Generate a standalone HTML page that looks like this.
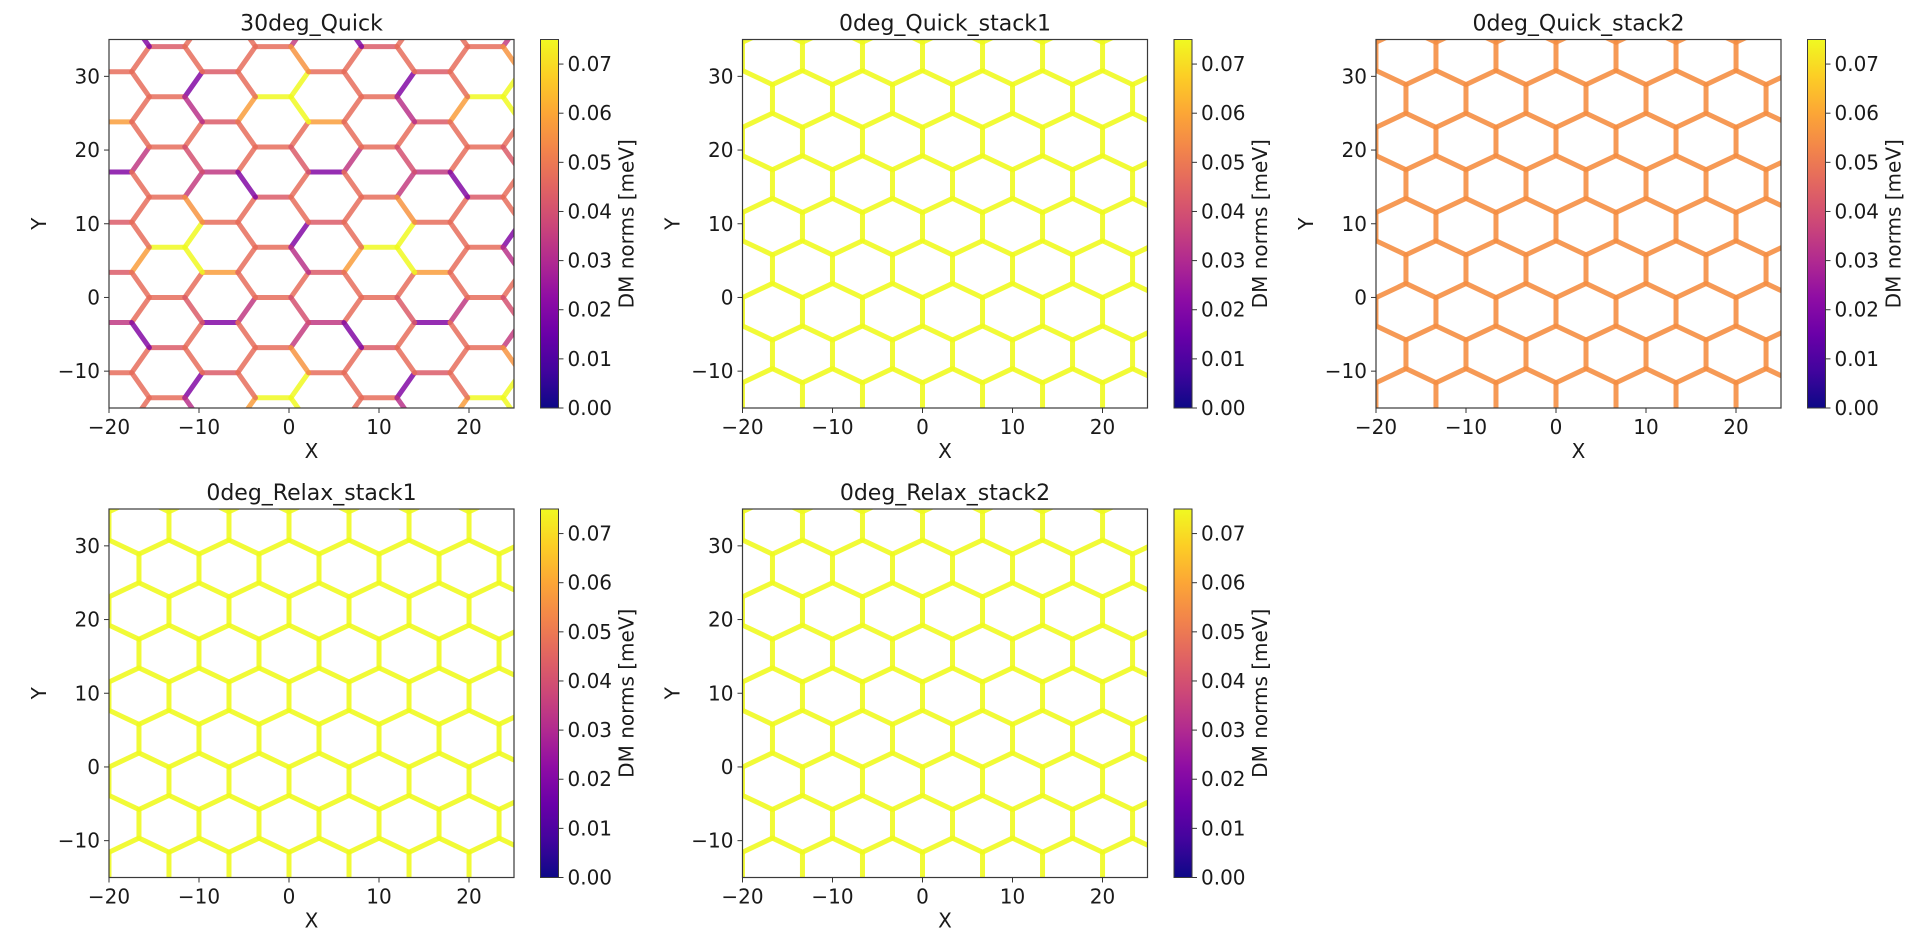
<!DOCTYPE html>
<html><head><meta charset="utf-8"><style>
html,body{margin:0;padding:0;background:#fff;}
svg{display:block;font-family:"DejaVu Sans","Liberation Sans",sans-serif;}
</style></head><body>
<svg id="fig" width="1920" height="939" viewBox="0 0 1920 939" xmlns="http://www.w3.org/2000/svg">
<defs>
<linearGradient id="plasma" x1="0" y1="1" x2="0" y2="0">
<stop offset="0" stop-color="#0d0887"/><stop offset="0.1" stop-color="#41049d"/><stop offset="0.2" stop-color="#6a00a8"/><stop offset="0.3" stop-color="#8f0da4"/><stop offset="0.4" stop-color="#b12a90"/><stop offset="0.5" stop-color="#cc4778"/><stop offset="0.6" stop-color="#e16462"/><stop offset="0.7" stop-color="#f2844b"/><stop offset="0.8" stop-color="#fca636"/><stop offset="0.9" stop-color="#fcce25"/><stop offset="1" stop-color="#f0f921"/>
</linearGradient>
</defs>
</svg>
<script>
// ---- data ----
const panelTitles = ["30deg_Quick","0deg_Quick_stack1","0deg_Quick_stack2","0deg_Relax_stack1","0deg_Relax_stack2"];
const panelKinds = ["30deg","0deg","0deg","0deg","0deg"];
const panelUniformValues = [null, 0.075, 0.055, 0.075, 0.075];
const xTicks = [-20,-10,0,10,20];
const yTicks = [-10,0,10,20,30];
const cbTicks = [0.00,0.01,0.02,0.03,0.04,0.05,0.06,0.07];
const cbTickLabels = ["0.00","0.01","0.02","0.03","0.04","0.05","0.06","0.07"];
// 30deg supercell edge values: [rowClass, colClass, horizontal, upRight, downRight]
const baseVal = 0.047;
const edgeClassRows = [0,0,1,1,2,2,3,3,4,4,5,5];
const edgeClassCols = [0,2,1,3,0,2,1,3,0,2,1,3];
const edgeClassH  = [0.047,0.047,0.058,0.043,0.075,0.047,0.047,0.043,0.047,0.043,0.034,0.02];
const edgeClassDU = [0.047,0.047,0.047,0.058,0.075,0.02,0.047,0.047,0.035,0.047,0.047,0.034];
const edgeClassDD = [0.043,0.04,0.047,0.047,0.075,0.032,0.047,0.047,0.056,0.047,0.02,0.047];

// ---- layout ----
const VMAX = 0.075, XMIN=-20, XMAX=25, YMIN=-15, YMAX=35;
const PW=405, PH=368.5;
const panelPos = [[109,39.5],[742.5,39.5],[1376,39.5],[109,509],[742.5,509]];
const stops = [[13,8,135],[65,4,157],[106,0,168],[143,13,164],[177,42,144],[204,71,120],[225,100,98],[242,132,75],[252,166,54],[252,206,37],[240,249,33]];
function cmap(v){
  let t=Math.max(0,Math.min(1,v/VMAX))*10; let i=Math.min(9,Math.floor(t)); let f=t-i;
  const a=stops[i], b=stops[i+1];
  const c=[0,1,2].map(k=>Math.round(a[k]+(b[k]-a[k])*f));
  return `rgb(${c[0]},${c[1]},${c[2]})`;
}
const NS="http://www.w3.org/2000/svg";
const svg=document.getElementById('fig');
function mk(tag,attrs,parent){const e=document.createElementNS(NS,tag);for(const k in attrs)e.setAttribute(k,attrs[k]);(parent||svg).appendChild(e);return e;}

function classVal(r,j,which){
  const q=Math.floor(r/6); const rr=r-6*q; const jj=(((j-2*q)%4)+4)%4;
  for(let i=0;i<edgeClassRows.length;i++){
    if(edgeClassRows[i]===rr && edgeClassCols[i]===jj){
      return which===0?edgeClassH[i]:which===1?edgeClassDU[i]:edgeClassDD[i];
    }
  }
  return baseVal;
}

panelTitles.forEach((title,p)=>{
  const [L,T]=panelPos[p];
  const sx=X=>L+(X-XMIN)/(XMAX-XMIN)*PW;
  const sy=Y=>T+(YMAX-Y)/(YMAX-YMIN)*PH;
  const g=mk('g',{});
  
  
  const cp=mk('clipPath',{id:'clip'+p},g);
  mk('rect',{x:L,y:T,width:PW,height:PH},cp);
  const lat=mk('g',{'clip-path':`url(#clip${p})`,'stroke-linecap':'round','stroke-width':5,'stroke-opacity':(p===0?0.85:0.9),fill:'none'},g);
  
  
  function seg(x1,y1,x2,y2,v){
    const l=mk('line',{x1:sx(x1),y1:sy(y1),x2:sx(x2),y2:sy(y2),stroke:cmap(v)},lat);
    
    
  }
  if(panelKinds[p]==="30deg"){
    const a=3.93, h=a*Math.sqrt(3)/2;
    for(let r=-6;r<=12;r++){
      for(let j=-6;j<=10;j++){
        if(((j-r)%2+2)%2!==0) continue;
        const Y=h*r, xc=-13.55+1.5*a*j;
        const xl=xc-a/2, xr=xc+a/2;
        seg(xl,Y,xr,Y,classVal(r,j,0));
        seg(xr,Y,xr+a/2,Y+h,classVal(r,j,1));
        seg(xr,Y,xr+a/2,Y-h,classVal(r,j,2));
      }
    }
  } else {
    const a=3.85, dx=a*Math.sqrt(3)/2, v=panelUniformValues[p];
    for(let k=-8;k<=10;k++){
      const X=k*dx;
      const y0=(k%2===0)?9.6:15.4;
      for(let n=-3;n<=3;n++){
        const Yc=y0+3*a*n;
        seg(X,Yc-a/2,X,Yc+a/2,v);
        seg(X,Yc+a/2,X-dx,Yc+a,v);
        seg(X,Yc+a/2,X+dx,Yc+a,v);
      }
    }
  }
  const sp=mk('rect',{x:L,y:T,width:PW,height:PH,fill:'none',stroke:'#3a3a3a','stroke-width':1.2},g);
  
  
  const tt=mk('text',{x:L+PW/2,y:T-9,'font-size':22,'text-anchor':'middle',fill:'#1a1a1a'},g);
  tt.textContent=title;
  
  
  xTicks.forEach(t=>{
    const x=sx(t);
    const tk=mk('line',{x1:x,y1:T+PH,x2:x,y2:T+PH+5,stroke:'#333','stroke-width':1},g);
    
    
    const tl=mk('text',{x:x,y:T+PH+26,'font-size':20,'text-anchor':'middle',fill:'#1a1a1a'},g);
    tl.textContent=(t<0?'\u2212'+(-t):String(t));
    
    
  });
  yTicks.forEach(t=>{
    const y=sy(t);
    const tk=mk('line',{x1:L-5,y1:y,x2:L,y2:y,stroke:'#333','stroke-width':1},g);
    
    
    const tl=mk('text',{x:L-9,y:y+7,'font-size':20,'text-anchor':'end',fill:'#1a1a1a'},g);
    tl.textContent=(t<0?'\u2212'+(-t):String(t));
    
    
  });
  const xl=mk('text',{x:L+PW/2,y:T+PH+50,'font-size':20,'text-anchor':'middle',fill:'#1a1a1a'},g);
  xl.textContent='X';
  
  
  const yl=mk('text',{x:0,y:0,'font-size':20,'text-anchor':'middle',fill:'#1a1a1a',transform:`translate(${L-63},${T+PH/2}) rotate(-90)`},g);
  yl.textContent='Y';
  
  
  // colorbar
  const CL=L+431.5, CW=18;
  const cb=mk('rect',{x:CL,y:T,width:CW,height:PH,fill:'url(#plasma)',stroke:'#3a3a3a','stroke-width':1},g);
  
  
  cbTicks.forEach((t,i)=>{
    const y=T+PH-(t/VMAX)*PH;
    const tk=mk('line',{x1:CL+CW,y1:y,x2:CL+CW+5,y2:y,stroke:'#333','stroke-width':1},g);
    
    
    const tl=mk('text',{x:CL+CW+9,y:y+7,'font-size':20,fill:'#1a1a1a'},g);
    tl.textContent=cbTickLabels[i];
    
    
  });
  const cl=mk('text',{x:0,y:0,'font-size':20,'text-anchor':'middle',fill:'#1a1a1a',transform:`translate(${CL+93},${T+PH/2}) rotate(-90)`},g);
  cl.textContent='DM norms [meV]';
  
  
});
</script>
</body></html>
